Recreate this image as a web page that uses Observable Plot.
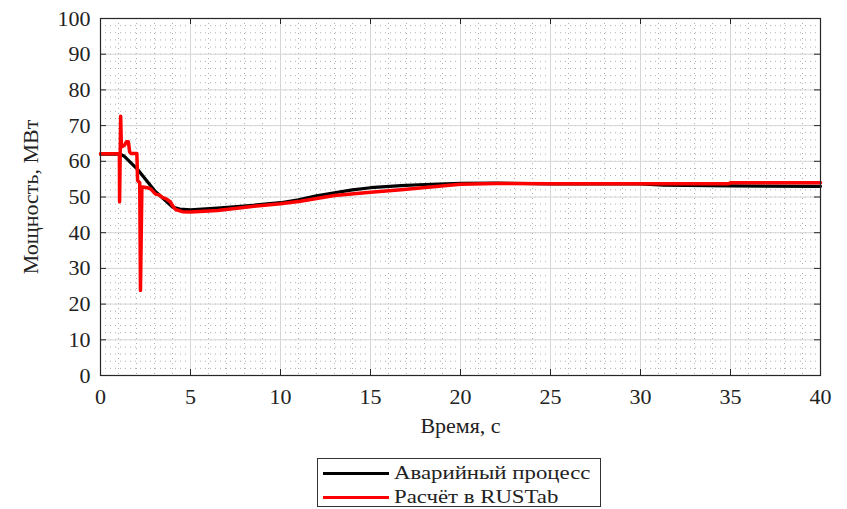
<!DOCTYPE html>
<html>
<head>
<meta charset="utf-8">
<script src="https://cdn.jsdelivr.net/npm/d3@7"></script>
<script src="https://cdn.jsdelivr.net/npm/@observablehq/plot@0.6"></script>
<style>
  body { margin: 0; background: #fff; font-family: "Liberation Serif", "Times New Roman", "DejaVu Serif", serif; }
  #wrap { position: relative; width: 847px; height: 509px; }
  #chart svg text { font-family: "Liberation Serif", "Times New Roman", "DejaVu Serif", serif !important; }
  #legend { position: absolute; left: 317px; top: 458px; width: 284px; height: 49px; border: 1px solid #333; background: #fff; box-sizing: border-box; }
  .row { position: absolute; left: 5px; height: 24px; display: flex; align-items: center; }
  .sw { width: 66px; height: 3px; margin-right: 5px; }
  .lbl { display: inline-block; font-size: 19px; color: #222; transform: scaleX(1.2); transform-origin: left center; white-space: nowrap; }
</style>
</head>
<body>
<div id="wrap"><div id="chart"></div><div id="legend"></div></div>
<script>
// ---- data ----
const seriesNames = ["Аварийный процесс", "Расчёт в RUSTab"];
const seriesColors = ["#000000", "#ff0000"];

const blackT = [0, 1.1, 1.3, 2.1, 3.0, 4.0, 4.4, 5.0, 6.5, 8.3, 10, 11, 12, 13, 14, 15, 16.7, 18, 20, 22, 25, 30, 31.3, 35, 40];
const blackP = [62, 62, 61.5, 57.5, 51.8, 47.2, 46.6, 46.4, 46.9, 47.6, 48.4, 49.2, 50.3, 51.2, 52.0, 52.6, 53.2, 53.5, 53.8, 53.9, 53.7, 53.7, 53.3, 53.1, 53.0];

const redT = [0, 1.05, 1.06, 1.12, 1.16, 1.33, 1.45, 1.55, 1.62, 1.7, 2.02, 2.06, 2.18, 2.22, 2.3, 2.35, 2.6, 2.8, 3.06, 3.25, 3.43, 3.65, 3.89, 4.0, 4.17, 4.54, 5.0, 6.5, 8.3, 10, 11.1, 13, 15, 16.7, 18.5, 20, 22, 25, 30, 34.9, 35, 40];
const redP = [62.1, 62.1, 48.7, 72.6, 64.0, 64.5, 65.5, 65.5, 62.6, 62.2, 62.2, 54.6, 54.0, 23.8, 52.8, 52.8, 52.6, 52.2, 50.8, 50.6, 49.9, 49.5, 48.6, 47.6, 46.5, 45.9, 45.8, 46.2, 47.3, 48.1, 48.8, 50.4, 51.3, 52.0, 52.9, 53.6, 53.8, 53.7, 53.7, 53.7, 54.0, 54.0];

const xTicks = [0, 5, 10, 15, 20, 25, 30, 35, 40];
const yTicks = [0, 10, 20, 30, 40, 50, 60, 70, 80, 90, 100];
const xMinor = d3.range(0, 41, 1);
const yMinor = d3.range(0, 101, 2);
const xLabel = "Время, с";
const yLabel = "Мощность, МВт";

// ---- build ----
const blackData = blackT.map((t, i) => ({t, p: blackP[i]}));
const redData = redT.map((t, i) => ({t, p: redP[i]}));
const xDom = [xTicks[0], xTicks[xTicks.length - 1]];
const yDom = [yTicks[0], yTicks[yTicks.length - 1]];
const W = 847, H = 445, mL = 100, mR = 27, mT = 18, mB = 70;
const tickPx = 6;
const dxTick = (xDom[1] - xDom[0]) * tickPx / (W - mL - mR);
const dyTick = (yDom[1] - yDom[0]) * tickPx / (H - mT - mB);
const FONT = "'Liberation Serif', 'Times New Roman', 'DejaVu Serif', serif";

const chart = Plot.plot({
  width: W, height: H,
  marginLeft: mL, marginRight: mR, marginTop: mT, marginBottom: mB,
  style: { fontFamily: FONT, fontSize: "22px", color: "#222", background: "#fff" },
  x: { domain: xDom, label: null },
  y: { domain: yDom, label: null },
  marks: [
    Plot.ruleX(xMinor, { stroke: "#9a9a9a", strokeDasharray: "1,4", strokeWidth: 1, strokeOpacity: 0.8 }),
    Plot.ruleY(yMinor, { stroke: "#9a9a9a", strokeDasharray: "1,4", strokeWidth: 1, strokeOpacity: 0.8 }),
    Plot.ruleX(xTicks, { stroke: "#d6d6d6", strokeWidth: 1 }),
    Plot.ruleY(yTicks, { stroke: "#d6d6d6", strokeWidth: 1 }),
    Plot.line(blackData, { x: "t", y: "p", stroke: seriesColors[0], strokeWidth: 3.2 }),
    Plot.line(redData, { x: "t", y: "p", stroke: seriesColors[1], strokeWidth: 3.5 }),
    Plot.frame({ stroke: "#262626", strokeWidth: 1.2 }),
    Plot.ruleY(yTicks, { x1: xDom[0], x2: xDom[0] + dxTick, stroke: "#262626" }),
    Plot.ruleY(yTicks, { x1: xDom[1] - dxTick, x2: xDom[1], stroke: "#262626" }),
    Plot.ruleX(xTicks, { y1: yDom[0], y2: yDom[0] + dyTick, stroke: "#262626" }),
    Plot.ruleX(xTicks, { y1: yDom[1] - dyTick, y2: yDom[1], stroke: "#262626" }),
    Plot.axisX(xTicks, { anchor: "bottom", tickSize: 0, tickPadding: 13, label: null, fontSize: 22, fontFamily: FONT }),
    Plot.axisY(yTicks, { anchor: "left", tickSize: 0, tickPadding: 10, label: null, fontSize: 22, fontFamily: FONT }),
    Plot.text([xLabel], { frameAnchor: "bottom", lineAnchor: "middle", dy: 50, fontSize: 22, textAnchor: "middle", fontFamily: FONT }),
    Plot.text([yLabel], { frameAnchor: "left", lineAnchor: "middle", dx: -70, rotate: -90, fontSize: 22, textAnchor: "middle", fontFamily: FONT })
  ]
});
document.getElementById("chart").appendChild(chart);

// ---- legend ----
const legend = document.getElementById("legend");
seriesNames.forEach((name, i) => {
  const row = document.createElement("div");
  row.className = "row";
  row.style.top = (i === 0 ? 2 : 26) + "px";
  const sw = document.createElement("div");
  sw.className = "sw";
  sw.style.background = seriesColors[i];
  const lb = document.createElement("span");
  lb.className = "lbl";
  lb.textContent = name;
  row.appendChild(sw);
  row.appendChild(lb);
  legend.appendChild(row);
});
</script>
</body>
</html>
